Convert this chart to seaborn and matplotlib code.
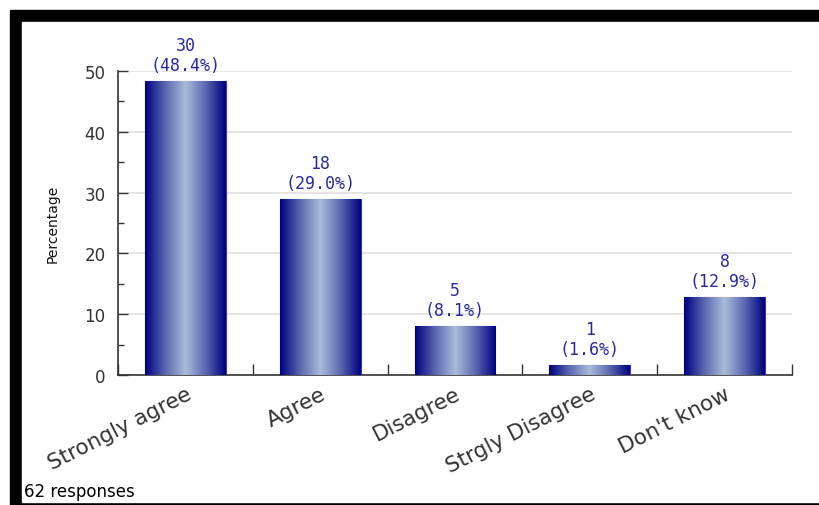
import numpy as np
import pandas as pd
import matplotlib
matplotlib.use("Agg")
import matplotlib.pyplot as plt
from matplotlib.colors import LinearSegmentedColormap
from matplotlib.patches import Rectangle
from matplotlib.ticker import MultipleLocator
import seaborn as sns

# data
categories = ["Strongly agree", "Agree", "Disagree", "Strgly Disagree", "Don't know"]
counts = [30, 18, 5, 1, 8]
percents = [48.4, 29.0, 8.1, 1.6, 12.9]
n_responses = 62

df = pd.DataFrame({"answer": categories, "pct": percents})

sns.set_theme(style="white")
plt.rcParams["font.family"] = ["DejaVu Sans"]

fig = plt.figure(figsize=(8.2, 5.06), dpi=100)
W, H = 820, 506

# black frame on top / left / bottom
fig.patches.append(Rectangle((10 / W, 0), 1, 1 - 11 / H, transform=fig.transFigure,
                             color="black", zorder=-10))
fig.patches.append(Rectangle((22 / W, 3 / H), 1, 1 - 23 / H - 3 / H,
                             transform=fig.transFigure, color="white", zorder=-9))

ax = fig.add_axes([118 / W, 1 - 376 / H, (792 - 118) / W, (376 - 72) / H])
ax.set_facecolor("none")

sns.barplot(data=df, x="answer", y="pct", color="#000080", width=0.6,
            edgecolor="#3a3aa0", linewidth=0.8, ax=ax, zorder=3)

# gradient fill inside each bar
cmap = LinearSegmentedColormap.from_list("bar", ["#000080", "#5a68b0", "#a8bcd8",
                                                 "#5a68b0", "#000080"])
grad = np.linspace(0, 1, 256).reshape(1, -1)
for p in ax.patches:
    x0, y0 = p.get_x(), p.get_y()
    w, h = p.get_width(), p.get_height()
    im = ax.imshow(grad, cmap=cmap, aspect="auto", extent=[x0, x0 + w, y0, y0 + h],
                   zorder=3.5)
    im.set_clip_path(p)

for i, (c, pc) in enumerate(zip(counts, percents)):
    ax.annotate(f"{c}\n({pc:.1f}%)", (i, pc), xytext=(0, 5), textcoords="offset points",
                ha="center", va="bottom", fontsize=12, color="#2a2aa0",
                family="DejaVu Sans Mono", linespacing=1.15)

ax.set_xlim(-0.5, len(categories) - 0.5)
ax.set_ylim(0, 50)
ax.yaxis.set_major_locator(MultipleLocator(10))
ax.yaxis.set_minor_locator(MultipleLocator(5))
ax.grid(axis="y", color="#e0e0e0", linewidth=1.2, zorder=0)
ax.set_axisbelow(True)

for s in ["top", "right"]:
    ax.spines[s].set_visible(False)
for s in ["left", "bottom"]:
    ax.spines[s].set_color("#333333")
    ax.spines[s].set_linewidth(1.2)

ax.tick_params(axis="y", which="major", direction="in", length=7, width=1,
               color="#333333", labelsize=12, labelcolor="#333333", left=True, pad=9)
ax.tick_params(axis="y", which="minor", direction="in", length=4, width=1,
               color="#333333", left=True)

# category labels at centres, tick marks at the boundaries
ax.set_xticks(range(len(categories)))
ax.set_xticklabels(categories, rotation=27, ha="right", rotation_mode="anchor",
                   fontsize=15.5, color="#333333")
ax.set_xticks(np.arange(-0.5, len(categories)), minor=True)
ax.tick_params(axis="x", which="major", length=0, pad=6)
ax.tick_params(axis="x", which="minor", direction="in", length=8, width=1,
               color="#333333", bottom=True)
for lbl in ax.get_xticklabels():
    lbl.set_x(lbl.get_position()[0] + 0.06)

ax.set_xlabel("")
ax.set_ylabel("Percentage", fontsize=10, color="#111111", labelpad=18)

fig.text(24 / W, 1 - 492 / H, f"{n_responses} responses", fontsize=12, color="black",
         va="center", ha="left")

fig.savefig("out.png", dpi=100)
